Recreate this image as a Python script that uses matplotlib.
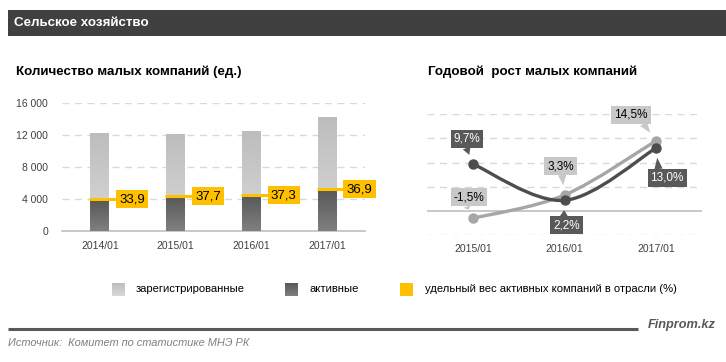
"""Сельское хозяйство: количество и годовой рост малых компаний."""

import numpy as np
import matplotlib
matplotlib.use("Agg")
import matplotlib.pyplot as plt
from matplotlib.colors import LinearSegmentedColormap
from matplotlib.patches import Rectangle, PathPatch
from matplotlib.path import Path

# ── data ──
years_left = ["2014/01", "2015/01", "2016/01", "2017/01"]
registered = [12290, 12130, 12500, 14290]
active = [3750, 4160, 4290, 5000]
share_level = [4000, 4375, 4500, 5250]
share_labels = ["33,9", "37,7", "37,3", "36,9"]

years_right = ["2015/01", "2016/01", "2017/01"]
growth_registered = [-1.5, 3.3, 14.5]
growth_active = [9.7, 2.2, 13.0]

left_ticks = [0, 4000, 8000, 12000, 16000]
left_ticklabels = ["0", "4 000", "8 000", "12 000", "16 000"]

NARROW = ["Liberation Sans Narrow", "Liberation Sans", "DejaVu Sans"]
SANS = ["Liberation Sans", "DejaVu Sans"]

LIGHT_TOP, LIGHT_BOT = "#bdbdbd", "#d9d9d9"
DARK_TOP, DARK_BOT = "#595959", "#808080"
YELLOW = "#ffc000"
GRID = "#d9d9d9"
AXIS = "#bfbfbf"
TICK = "#404040"

plt.rcParams["font.family"] = SANS

fig = plt.figure(figsize=(7.26, 3.62), dpi=100)

# overlay in pixel coordinates for header, legend and footer
ov = fig.add_axes([0, 0, 1, 1], zorder=0)
ov.set_xlim(0, 726)
ov.set_ylim(362, 0)
ov.axis("off")


def gradient_image(ax, extent, c_top, c_bot, clip=None, zorder=2):
    cmap = LinearSegmentedColormap.from_list("g", [c_bot, c_top])
    grad = np.linspace(0, 1, 64).reshape(-1, 1)
    im = ax.imshow(grad, extent=extent, origin="lower", cmap=cmap,
                   aspect="auto", zorder=zorder, interpolation="bilinear")
    if clip is not None:
        im.set_clip_path(clip)
    return im


# ── header ──
ov.add_patch(Rectangle((8, 10), 718, 26, facecolor="#404040", edgecolor="none"))
ov.text(14, 23.5, "Сельское хозяйство", color="white", fontsize=9.6,
        fontweight="bold", family=NARROW, va="center", ha="left")
ov.text(16, 72, "Количество малых компаний (ед.)", color="black", fontsize=9.6,
        fontweight="bold", family=NARROW, va="center", ha="left")
ov.text(428, 72, "Годовой  рост малых компаний", color="black", fontsize=9.6,
        fontweight="bold", family=NARROW, va="center", ha="left")

# ── left chart: overlapping bars ──
ax1 = fig.add_axes([62 / 726, 1 - 231 / 362, 303 / 726, (231 - 103.3) / 362], zorder=2)
x1 = np.arange(len(years_left))
ax1.set_xlim(-0.5, len(years_left) - 0.5)
ax1.set_ylim(0, 16000)
bar_w = 0.25

reg_bars = ax1.bar(x1, registered, width=bar_w, color="none", edgecolor="none", zorder=2)
for b in reg_bars:
    gradient_image(ax1, (b.get_x(), b.get_x() + b.get_width(), 0, b.get_height()),
                   LIGHT_TOP, LIGHT_BOT, clip=b, zorder=2)
act_bars = ax1.bar(x1, active, width=bar_w, color="none", edgecolor="none", zorder=3)
for b in act_bars:
    gradient_image(ax1, (b.get_x(), b.get_x() + b.get_width(), 0, b.get_height()),
                   DARK_TOP, DARK_BOT, clip=b, zorder=3)

ax1.hlines(share_level, x1 - 0.14, x1 + 0.25, color=YELLOW, linewidth=2.2, zorder=4)
for xi, yi, lab in zip(x1, share_level, share_labels):
    ax1.annotate(lab, xy=(xi + bar_w / 2, yi), xytext=(10, 0), textcoords="offset pixels",
                 ha="left", va="center", fontsize=9.5, color="black", zorder=5,
                 bbox=dict(boxstyle="square,pad=0.25", facecolor=YELLOW, edgecolor="none"))

ax1.set_yticks(left_ticks)
ax1.set_yticklabels(left_ticklabels)
ax1.set_xticks(x1)
ax1.set_xticklabels(years_left)
ax1.tick_params(axis="y", length=0, pad=10, labelsize=7.5, labelcolor=TICK)
ax1.tick_params(axis="x", length=0, pad=7, labelsize=7.5, labelcolor=TICK)
for t in left_ticks[1:]:
    ax1.axhline(t, color=GRID, linewidth=1, linestyle=(0, (5, 4)), zorder=1)
for s in ("top", "right", "left"):
    ax1.spines[s].set_visible(False)
ax1.spines["bottom"].set_color(AXIS)
ax1.spines["bottom"].set_linewidth(1.2)
ax1.patch.set_visible(False)

# ── right chart: smoothed growth lines ──
ax2 = fig.add_axes([427 / 726, 1 - 235.3 / 362, 275 / 726, (235.3 - 114) / 362], zorder=2)
x2 = np.arange(len(years_right))
ax2.set_xlim(-0.5, len(years_right) - 0.5)
ax2.set_ylim(-5, 20)
for t in (-5, 5, 10, 15, 20):
    ax2.axhline(t, color=GRID, linewidth=1, linestyle=(0, (5, 4)), zorder=1)
ax2.axhline(0, color=AXIS, linewidth=1.2, zorder=1)


def smooth_path(xs, ys):
    pts = np.column_stack([xs, ys]).astype(float)
    ext = np.vstack([pts[0], pts, pts[-1]])
    verts = [pts[0]]
    codes = [Path.MOVETO]
    for i in range(len(pts) - 1):
        p0, p1, p2, p3 = ext[i], ext[i + 1], ext[i + 2], ext[i + 3]
        verts += [p1 + (p2 - p0) / 6, p2 - (p3 - p1) / 6, p2]
        codes += [Path.CURVE4] * 3
    return Path(verts, codes)


LINE_LIGHT, LINE_DARK = "#a6a6a6", "#4d4d4d"
for ys, col, z in ((growth_registered, LINE_LIGHT, 3), (growth_active, LINE_DARK, 4)):
    ax2.add_patch(PathPatch(smooth_path(x2, ys), facecolor="none", edgecolor=col,
                            linewidth=2.4, zorder=z, capstyle="round"))
    ax2.plot(x2, ys, "o", color=col, markersize=6.5, zorder=z)

BOX_LIGHT, BOX_DARK = "#c8c8c8", "#595959"
callouts = [
    # series, index, offset, relpos, box color, text color
    (growth_active, 0, (-6, 25), (0.45, 0), BOX_DARK, "white"),
    (growth_registered, 0, (-4, 21), (0.4, 0), BOX_LIGHT, "black"),
    (growth_registered, 1, (-4, 29), (0.55, 0), BOX_LIGHT, "black"),
    (growth_active, 1, (2, -25), (0.4, 1), BOX_DARK, "white"),
    (growth_registered, 2, (-25, 26), (0.8, 0), BOX_LIGHT, "black"),
    (growth_active, 2, (11, -30), (0.25, 1), BOX_DARK, "white"),
]
for series, i, off, rel, bc, tc in callouts:
    val = series[i]
    lab = f"{val:.1f}".replace(".", ",") + "%"
    ax2.annotate(lab, xy=(x2[i], val), xytext=off, textcoords="offset pixels",
                 ha="center", va="center", fontsize=8.5, color=tc, zorder=6,
                 bbox=dict(boxstyle="square,pad=0.25", facecolor=bc, edgecolor="none"),
                 arrowprops=dict(arrowstyle="wedge,tail_width=0.7,shrink_factor=0.5",
                                 facecolor=bc, edgecolor="none", relpos=rel,
                                 shrinkA=0, shrinkB=7))

ax2.set_yticks([])
ax2.set_xticks(x2)
ax2.set_xticklabels(years_right)
ax2.tick_params(axis="x", length=0, pad=6, labelsize=7.5, labelcolor=TICK)
for s in ax2.spines.values():
    s.set_visible(False)
ax2.patch.set_visible(False)

# ── legend ──
legend_items = [
    (111.6, 136, "зарегистрированные", LIGHT_TOP, LIGHT_BOT),
    (284.6, 310, "активные", DARK_TOP, DARK_BOT),
    (400.0, 425, "удельный вес активных компаний в отрасли (%)", YELLOW, YELLOW),
]
for sx, tx, lab, ct, cb in legend_items:
    gradient_image(ov, (sx, sx + 13, 296, 283.5), ct, cb, zorder=2)
    ov.text(tx, 289.5, lab, fontsize=8.1, family=NARROW, color="black",
            va="center", ha="left")

# ── footer ──
ov.plot([8, 638], [328.5, 328.5], color="#595959", linewidth=2.2, solid_capstyle="butt")
ov.text(716, 325, "Finprom.kz", fontsize=9.2, fontweight="bold", fontstyle="italic",
        family=NARROW, color="#595959", ha="right", va="center")
ov.text(8, 343, "Источник:  Комитет по статистике МНЭ РК", fontsize=7.9,
        fontstyle="italic", family=NARROW, color="#808080", ha="left", va="center")
ov.set_xlim(0, 726)
ov.set_ylim(362, 0)

fig.savefig("out.png", dpi=100, facecolor="white")
